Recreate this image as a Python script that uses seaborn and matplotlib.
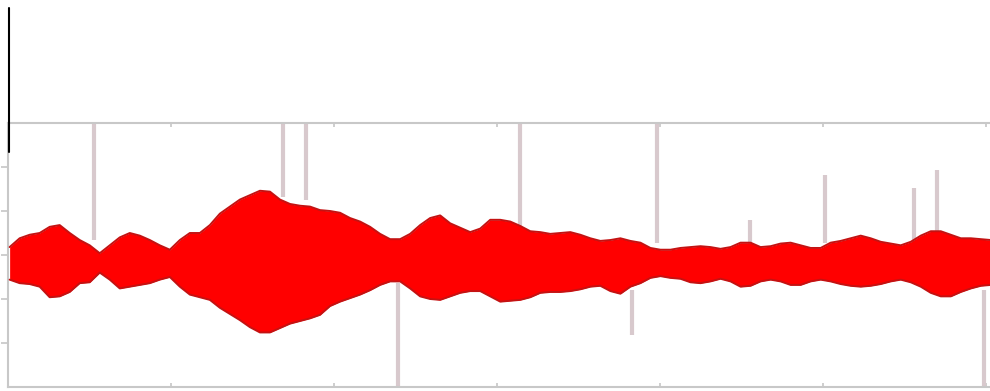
import matplotlib

matplotlib.use("Agg")
import matplotlib.pyplot as plt
import numpy as np
import seaborn as sns
from matplotlib.lines import Line2D

sns.set_theme(style="white")

# envelope of the waveform, read every ~0.061 s
env_top = [0.09, 0.19, 0.23, 0.25, 0.32, 0.34, 0.25, 0.17, 0.11, 0.02,
           0.11, 0.20, 0.25, 0.22, 0.17, 0.11, 0.06, 0.17, 0.25, 0.25,
           0.34, 0.47, 0.55, 0.63, 0.68, 0.73, 0.72, 0.63, 0.58, 0.56,
           0.55, 0.51, 0.50, 0.48, 0.42, 0.38, 0.32, 0.24, 0.18, 0.18,
           0.24, 0.34, 0.42, 0.45, 0.36, 0.31, 0.26, 0.30, 0.40, 0.40,
           0.38, 0.33, 0.27, 0.26, 0.24, 0.25, 0.26, 0.23, 0.19, 0.16,
           0.17, 0.19, 0.16, 0.14, 0.08, 0.06, 0.06, 0.08, 0.09, 0.10,
           0.09, 0.07, 0.09, 0.14, 0.14, 0.09, 0.10, 0.13, 0.14, 0.11,
           0.08, 0.08, 0.14, 0.16, 0.19, 0.22, 0.19, 0.15, 0.13, 0.11,
           0.15, 0.22, 0.27, 0.27, 0.23, 0.19, 0.19, 0.18, 0.17]
env_bottom = [-0.28, -0.32, -0.33, -0.36, -0.48, -0.47, -0.42, -0.32, -0.31, -0.20,
              -0.28, -0.38, -0.36, -0.34, -0.32, -0.28, -0.25, -0.36, -0.45, -0.48,
              -0.51, -0.60, -0.67, -0.74, -0.82, -0.88, -0.88, -0.83, -0.78, -0.75,
              -0.72, -0.68, -0.58, -0.53, -0.49, -0.45, -0.40, -0.34, -0.30, -0.30,
              -0.38, -0.47, -0.50, -0.51, -0.47, -0.43, -0.41, -0.41, -0.47, -0.53,
              -0.52, -0.51, -0.48, -0.43, -0.42, -0.42, -0.41, -0.39, -0.36, -0.35,
              -0.41, -0.44, -0.36, -0.32, -0.26, -0.24, -0.26, -0.27, -0.31, -0.32,
              -0.30, -0.27, -0.30, -0.36, -0.35, -0.30, -0.28, -0.30, -0.34, -0.34,
              -0.30, -0.28, -0.30, -0.33, -0.35, -0.36, -0.35, -0.33, -0.30, -0.28,
              -0.31, -0.36, -0.43, -0.47, -0.47, -0.42, -0.38, -0.35, -0.34]
times = np.linspace(0.01, 6.03, len(env_top))

# marker spikes (time, from, to)
spike_t = [0.53, 1.69, 1.83, 2.39, 3.14, 3.83, 3.98, 4.55, 5.01, 5.56, 5.70, 5.99]
spike_lo = [0.17, 0.66, 0.63, -1.5, 0.25, -0.91, 0.14, 0.11, 0.14, 0.14, 0.23, -1.5]
spike_hi = [1.5, 1.5, 1.5, -0.32, 1.5, -0.40, 1.5, 0.40, 0.91, 0.76, 0.97, -0.40]

x_ticks = [1, 2, 3, 4, 5, 6]
y_ticks = [-1, -0.5, 0, 0.5, 1]

fig = plt.figure(figsize=(9.9, 3.91), dpi=100)
ax = fig.add_axes([8 / 990, 4 / 391, 984 / 990, 264 / 391])

ax.vlines(spike_t, spike_lo, spike_hi, color="#d8c9cd", linewidth=3, zorder=1)

ax.fill_between(times, env_bottom, env_top, color="#ff0000",
                linewidth=0, zorder=2)
sns.lineplot(x=times, y=env_top, color="#c41212", linewidth=1.4, ax=ax, zorder=3)
sns.lineplot(x=times, y=env_bottom, color="#c41212", linewidth=1.4, ax=ax, zorder=3)

ax.set_xlim(0, 6.037)
ax.set_ylim(-1.5, 1.5)
ax.set_xticks(x_ticks)
ax.set_xticklabels([f"{t:.1f}" for t in x_ticks], color="#aaaaaa", fontsize=9)
ax.set_yticks(y_ticks)
ax.set_yticklabels([])
ax.tick_params(axis="x", bottom=True, top=True, direction="in", length=3,
               pad=2, color="#c8c8c8")
ax.tick_params(axis="y", left=True, direction="out", length=5, color="#c8c8c8")
for side in ["left", "top", "bottom"]:
    ax.spines[side].set_color("#c8c8c8")
    ax.spines[side].set_linewidth(1.5)
ax.spines["right"].set_visible(False)
ax.set_xlabel("")
ax.set_ylabel("")

# cursor line in the upper left corner
fig.add_artist(Line2D([8.5 / 990, 8.5 / 990], [239 / 391, 383 / 391],
                      color="black", linewidth=1.5))

fig.savefig("out.png", dpi=100)
